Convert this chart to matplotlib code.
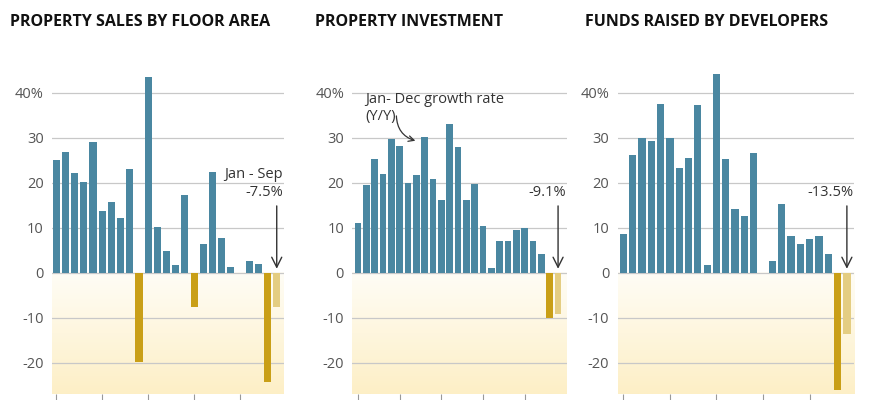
import matplotlib
matplotlib.use("Agg")
import matplotlib.pyplot as plt
import numpy as np
from matplotlib.colors import LinearSegmentedColormap

plt.rcParams['font.family'] = ['Open Sans', 'DejaVu Sans']

titles = ["PROPERTY SALES BY FLOOR AREA", "PROPERTY INVESTMENT", "FUNDS RAISED BY DEVELOPERS"]
sales = [25.2, 26.8, 22.3, 20.2, 29.1, 13.7, 15.8, 12.3, 23.2, -19.7, 43.6, 10.1, 4.9, 1.8,
         17.3, -7.6, 6.5, 22.5, 7.7, 1.3, -0.1, 2.6, 1.9, -24.3]
invest = [11.0, 19.5, 25.3, 22.0, 29.8, 28.1, 20.0, 21.8, 30.2, 20.9, 16.1, 33.1, 27.9, 16.2,
          19.8, 10.5, 1.0, 7.0, 7.0, 9.5, 9.9, 7.0, 4.3, -10.0]
funds = [8.7, 26.1, 29.9, 29.3, 37.6, 29.9, 23.4, 25.6, 37.3, 1.8, 44.2, 25.4, 14.2, 12.7,
         26.6, 0.0, 2.6, 15.3, 8.2, 6.4, 7.6, 8.1, 4.2, -26.0]
partial = [-7.5, -9.1, -13.5]
partial_labels = ["Jan - Sep\n-7.5%", "-9.1%", "-13.5%"]
yticks = [-20, -10, 0, 10, 20, 30, 40]
yticklabels = ["-20", "-10", "0", "10", "20", "30", "40%"]

BLUE = "#4a87a1"
GOLD = "#c99f17"
LIGHT = "#e4cd82"

fig = plt.figure(figsize=(8.7, 4.0), dpi=100)
boxes = [(0.060, 0.014, 0.266, 0.81, (-0.45, 24.75)),
         (0.405, 0.014, 0.247, 0.81, (-0.68, 25.1)),
         (0.710, 0.014, 0.272, 0.81, (-0.6, 24.8))]
title_x = [0.012, 0.362, 0.672]
cmap = LinearSegmentedColormap.from_list("bg", ["#fffdf6", "#fdefc6"])

for i, (data, (l, b, w, h, xl)) in enumerate(zip([sales, invest, funds], boxes)):
    ax = fig.add_axes([l, b, w, h])
    ymin, ymax = -27, 45
    ax.imshow(np.linspace(0, 1, 100).reshape(-1, 1), cmap=cmap, aspect='auto',
              extent=[xl[0], xl[1], ymin, 0], origin='upper', zorder=0)
    for y in yticks:
        ax.axhline(y, color="#c8c8c8", lw=0.9, zorder=1)
    x = np.arange(len(data))
    cols = [BLUE if v >= 0 else GOLD for v in data]
    ax.bar(x, data, width=0.78, color=cols, zorder=2)
    xp = len(data)
    ax.bar([xp], [partial[i]], width=0.78, color=LIGHT, zorder=2)
    ax.set_xlim(*xl)
    ax.set_ylim(ymin, ymax)
    ax.set_yticks(yticks)
    ax.set_yticklabels(yticklabels, color="#555555", fontsize=10.5)
    ax.tick_params(axis='y', length=0, pad=6)
    ax.set_xticks([0, 5, 10, 15, 20])
    ax.set_xticklabels([])
    ax.tick_params(axis='x', length=4, color="#999999", direction='out')
    for s in ax.spines.values():
        s.set_visible(False)
    top_text = 19.5 if i else 23.5
    ax.annotate("", xy=(xp, 0.3), xytext=(xp, 15.5 if i else 15.5),
                arrowprops=dict(arrowstyle="->", color="#333333", lw=1.0,
                                mutation_scale=18), zorder=3)
    ax.text(xl[1] - 0.1, top_text, partial_labels[i], ha='right', va='top',
            fontsize=10.5, color="#333333", linespacing=1.3)
    fig.text(title_x[i], 0.945, titles[i], fontsize=11.5, fontweight='bold',
             color="#111111", va='center')
    if i == 1:
        ax.text(0.9, 40.3, "Jan- Dec growth rate\n(Y/Y)", ha='left', va='top',
                fontsize=10.5, color="#333333", linespacing=1.2)
        ax.annotate("", xy=(7.2, 29.2), xytext=(4.6, 35.5),
                    arrowprops=dict(arrowstyle="->", color="#333333", lw=0.9,
                                    connectionstyle="arc3,rad=0.4"))

fig.savefig("out.png", dpi=100)
